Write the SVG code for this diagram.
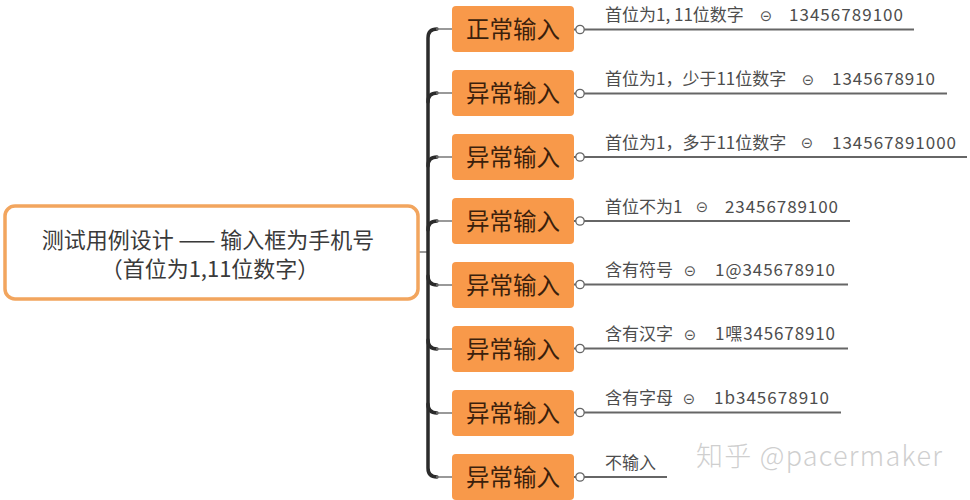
<svg xmlns="http://www.w3.org/2000/svg" width="970" height="500" viewBox="0 0 970 500">
<style>
.bg{fill:#ffffff}
.root rect{fill:#ffffff;stroke:#f2a55e;stroke-width:3.5}
.root text{font-family:"Noto Sans CJK SC","Liberation Sans",sans-serif;font-size:22px;fill:#3a3a3a;text-anchor:middle}
.br rect{fill:#f8994a}
.br text{font-family:"Noto Sans CJK SC","Liberation Sans",sans-serif;font-size:23.5px;fill:#3b1f0c;text-anchor:middle}
.lab{font-family:"Noto Sans CJK SC","Liberation Sans",sans-serif;font-size:17px;fill:#4d4d4d}
.ico{font-family:"DejaVu Sans",sans-serif;font-size:15px;fill:#555;text-anchor:middle}
.trunk{fill:none;stroke:#2b2b2b;stroke-width:3.5;stroke-linecap:round}
.thin{fill:none;stroke:#777;stroke-width:1.5}
.uline{fill:none;stroke:#666;stroke-width:1.8}
.knob{fill:#fff;stroke:#666;stroke-width:1.3}
.wm{font-family:"Noto Sans CJK SC","Liberation Sans",sans-serif;font-size:27px;fill:#cfcfcf;font-weight:300}
</style>
<rect class="bg" x="0" y="0" width="970" height="500"/>
<g id="connectors">
<line class="thin" x1="419" y1="252" x2="428" y2="252"/>
<path class="trunk" d="M437 29 Q428 29 428 38 L428 468 Q428 477 437 477"/>
<path class="trunk" d="M428 102 Q428 93 437 93"/>
<path class="trunk" d="M428 166 Q428 157 437 157"/>
<path class="trunk" d="M428 230 Q428 221 437 221"/>
<path class="trunk" d="M428 276 Q428 285 437 285"/>
<path class="trunk" d="M428 340 Q428 349 437 349"/>
<path class="trunk" d="M428 404 Q428 413 437 413"/>
<line class="thin" x1="436" y1="29" x2="452" y2="29"/>
<line class="thin" x1="436" y1="93" x2="452" y2="93"/>
<line class="thin" x1="436" y1="157" x2="452" y2="157"/>
<line class="thin" x1="436" y1="221" x2="452" y2="221"/>
<line class="thin" x1="436" y1="285" x2="452" y2="285"/>
<line class="thin" x1="436" y1="349" x2="452" y2="349"/>
<line class="thin" x1="436" y1="413" x2="452" y2="413"/>
<line class="thin" x1="436" y1="477" x2="452" y2="477"/>
<line class="uline" x1="574" y1="29.5" x2="914" y2="29.5"/>
<line class="uline" x1="574" y1="93.5" x2="947" y2="93.5"/>
<line class="uline" x1="574" y1="157" x2="967" y2="157"/>
<line class="uline" x1="574" y1="221" x2="850" y2="221"/>
<line class="uline" x1="574" y1="284.5" x2="848" y2="284.5"/>
<line class="uline" x1="574" y1="348.5" x2="848" y2="348.5"/>
<line class="uline" x1="574" y1="412.5" x2="841" y2="412.5"/>
<line class="uline" x1="574" y1="477" x2="667" y2="477"/>
<circle class="knob" cx="580" cy="29.5" r="4.2"/>
<circle class="knob" cx="580" cy="93.5" r="4.2"/>
<circle class="knob" cx="580" cy="157" r="4.2"/>
<circle class="knob" cx="580" cy="221" r="4.2"/>
<circle class="knob" cx="580" cy="284.5" r="4.2"/>
<circle class="knob" cx="580" cy="348.5" r="4.2"/>
<circle class="knob" cx="580" cy="412.5" r="4.2"/>
<circle class="knob" cx="580" cy="477" r="4.2"/>
</g>
<g id="root" class="root">
<rect x="5" y="206" width="413" height="93" rx="10"/>
<text x="208" y="248">测试用例设计 —— 输入框为手机号</text>
<text x="210" y="277">（首位为1,11位数字）</text>
</g>
<g id="n1" class="br"><rect x="452" y="6" width="122" height="46" rx="4"/><text x="513" y="38">正常输入</text></g>
<g id="n2" class="br"><rect x="452" y="70" width="122" height="46" rx="4"/><text x="513" y="102">异常输入</text></g>
<g id="n3" class="br"><rect x="452" y="134" width="122" height="46" rx="4"/><text x="513" y="166">异常输入</text></g>
<g id="n4" class="br"><rect x="452" y="198" width="122" height="46" rx="4"/><text x="513" y="230">异常输入</text></g>
<g id="n5" class="br"><rect x="452" y="262" width="122" height="46" rx="4"/><text x="513" y="294">异常输入</text></g>
<g id="n6" class="br"><rect x="452" y="326" width="122" height="46" rx="4"/><text x="513" y="358">异常输入</text></g>
<g id="n7" class="br"><rect x="452" y="390" width="122" height="46" rx="4"/><text x="513" y="422">异常输入</text></g>
<g id="n8" class="br"><rect x="452" y="454" width="122" height="46" rx="4"/><text x="513" y="486">异常输入</text></g>
<g id="l1"><text class="lab" x="605" y="21">首位为1, 11位数字</text><text class="ico" x="766" y="20.5">⊝</text><text class="lab" x="789" y="21" textLength="114">13456789100</text></g>
<g id="l2"><text class="lab" x="605" y="85">首位为1，少于11位数字</text><text class="ico" x="808" y="84.5">⊝</text><text class="lab" x="832" y="85" textLength="103">1345678910</text></g>
<g id="l3"><text class="lab" x="605" y="148.5">首位为1，多于11位数字</text><text class="ico" x="807" y="148">⊝</text><text class="lab" x="832" y="148.5" textLength="124">134567891000</text></g>
<g id="l4"><text class="lab" x="605" y="212.5">首位不为1</text><text class="ico" x="702" y="212">⊝</text><text class="lab" x="725" y="212.5" textLength="113">23456789100</text></g>
<g id="l5"><text class="lab" x="605" y="276">含有符号</text><text class="ico" x="690" y="275.5">⊝</text><text class="lab" x="715" y="276" textLength="120">1@345678910</text></g>
<g id="l6"><text class="lab" x="605" y="340">含有汉字</text><text class="ico" x="690" y="339.5">⊝</text><text class="lab" x="715" y="340" textLength="120">1嘿345678910</text></g>
<g id="l7"><text class="lab" x="605" y="404">含有字母</text><text class="ico" x="689" y="403.5">⊝</text><text class="lab" x="714" y="404" textLength="115">1b345678910</text></g>
<g id="l8"><text class="lab" x="605" y="468.5">不输入</text></g>
<text class="wm" x="696" y="466" textLength="246">知乎 @pacermaker</text>
</svg>
